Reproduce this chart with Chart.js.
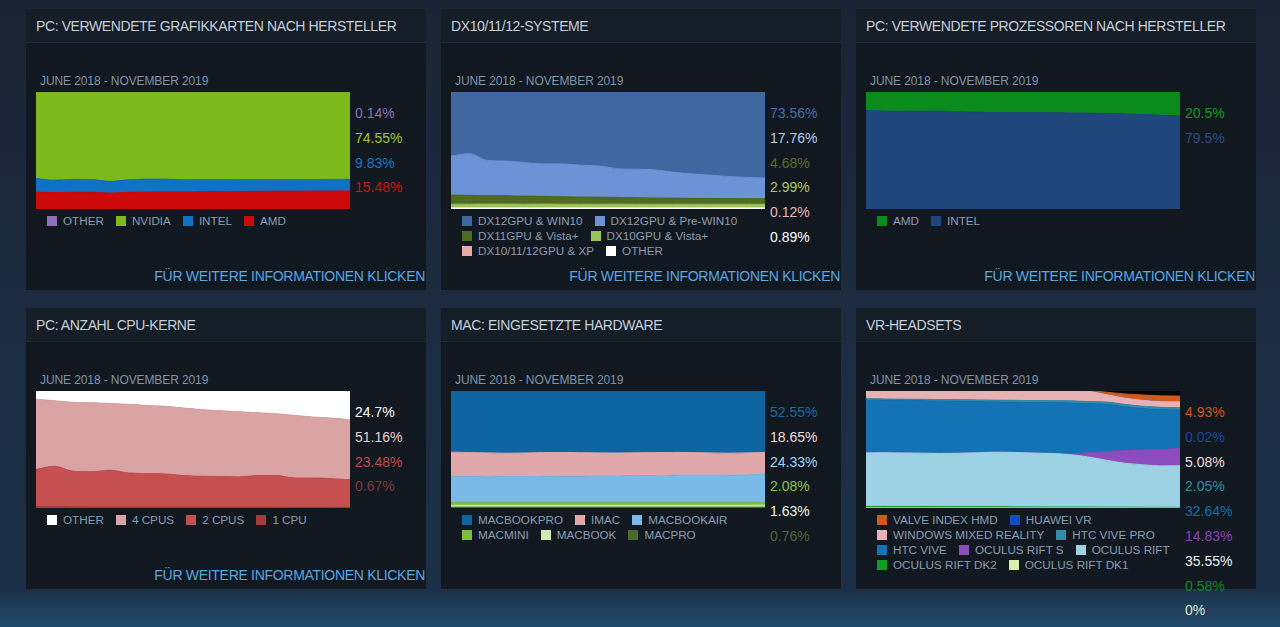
<!DOCTYPE html>
<html><head><meta charset="utf-8">
<script src="https://cdn.jsdelivr.net/npm/chart.js@4.4.1/dist/chart.umd.min.js"></script>
<style>
html,body{margin:0;padding:0}
body{width:1280px;height:627px;overflow:hidden;position:relative;font-family:'Liberation Sans',Arial,sans-serif;
background:linear-gradient(180deg,#1b2434 0px,#1c2b3f 300px,#1b3048 590px,#1e3c5a 605px,#22496b 627px);}
.panel{position:absolute;width:400px;height:281px;background:#111820;}
.ttl{height:33px;line-height:34px;padding-left:10px;background:#151d27;border-bottom:1px solid #1f2a37;color:#c5cfd8;font-size:14px;letter-spacing:-0.4px;white-space:nowrap}
.period{position:absolute;left:14px;top:65px;font-size:12px;color:#8194a8;letter-spacing:-0.1px;white-space:nowrap}
.panel canvas{position:absolute;left:10px;top:83px}
.pcts{position:absolute;left:329px;top:92px;font-size:14px;white-space:nowrap}
.pcts div{height:24.8px;line-height:24.8px}
.legend{position:absolute;left:21px;top:204px;width:305px;font-size:11.7px;line-height:15px;color:#8c9db0}
.li{display:inline-block;margin-right:12px;white-space:nowrap}
.li i{display:inline-block;width:10px;height:10px;margin-right:6px;vertical-align:-1px}
.more{position:absolute;right:1px;top:259px;font-size:14px;color:#5aa7e0;letter-spacing:-0.3px;white-space:nowrap}
</style></head>
<body>
<script>
const months = ['2018-06','2018-07','2018-08','2018-09','2018-10','2018-11','2018-12','2019-01','2019-02','2019-03','2019-04','2019-05','2019-06','2019-07','2019-08','2019-09','2019-10','2019-11'];
const periodLabel = 'JUNE 2018 - NOVEMBER 2019';
const moreInfo = 'FÜR WEITERE INFORMATIONEN KLICKEN';

// 1. GPU vendors (legend order = top to bottom of stack)
const gpuNames = ['OTHER','NVIDIA','INTEL','AMD'];
const gpuPercents = ['0.14%','74.55%','9.83%','15.48%'];
const gpuOther  = [0.14,0.14,0.14,0.14,0.14,0.14,0.14,0.14,0.14,0.14,0.14,0.14,0.14,0.14,0.14,0.14,0.14,0.14];
const gpuNvidia = [73.86,75.26,74.56,74.66,76.26,74.96,74.36,74.36,74.96,74.76,74.76,74.86,74.76,74.76,74.76,74.76,74.56,74.55];
const gpuIntel  = [11.7,10.6,11.1,10.8,10.0,10.6,11.0,10.9,10.4,10.3,10.2,10.0,10.0,9.9,9.9,9.8,10.0,9.83];
const gpuAmd    = [14.3,14.0,14.2,14.4,13.6,14.3,14.5,14.6,14.5,14.8,14.9,15.0,15.1,15.2,15.2,15.3,15.3,15.48];
const gpuColors = ['#8e70b8','#7cb91a','#0f72c4','#cc0a0a'];
const gpuTextColors = ['#8a6fb8','#a3c43a','#1b76c8','#c81a1a'];

// 2. DirectX systems
const dxNames = ['DX12GPU & WIN10','DX12GPU & Pre-WIN10','DX11GPU & Vista+','DX10GPU & Vista+','DX10/11/12GPU & XP','OTHER'];
const dxPercents = ['73.56%','17.76%','4.68%','2.99%','0.12%','0.89%'];
const dxWin10  = [54.7,52.7,58.5,59.0,60.3,61.5,61.5,62.5,63.2,65.5,66.0,66.5,68.5,70.0,71.0,72.2,73.0,73.56];
const dxPreWin10 = [33.4,35.6,30.0,29.7,28.7,27.6,28.0,27.2,26.7,24.5,24.3,24.1,22.3,20.9,20.0,18.9,18.2,17.76];
const dxDx11   = [7.8,7.6,7.3,7.1,6.9,6.7,6.4,6.2,6.0,5.8,5.6,5.4,5.2,5.1,5.0,4.9,4.8,4.68];
const dxDx10   = [3.0,3.0,3.1,3.1,3.0,3.1,3.0,3.0,3.0,3.1,3.0,3.0,3.0,3.0,3.0,3.0,3.0,2.99];
const dxXp     = [0.2,0.2,0.19,0.18,0.18,0.17,0.17,0.16,0.16,0.15,0.15,0.14,0.14,0.13,0.13,0.13,0.12,0.12];
const dxOther  = [0.9,0.9,0.9,0.9,0.9,0.9,0.9,0.9,0.9,0.9,0.9,0.9,0.9,0.9,0.9,0.9,0.9,0.89];
const dxColors = ['#4067a0','#6b93d6','#4f6b1f','#9cc25a','#e8a8ac','#ffffff'];
const dxTextColors = ['#4a6fa8','#b9cdee','#5a6e2a','#a8c868','#e8b8b8','#ffffff'];

// 3. CPU vendors
const cpuNames = ['AMD','INTEL'];
const cpuPercents = ['20.5%','79.5%'];
const cpuAmd   = [15.9,16.3,16.5,16.4,16.3,16.9,17.3,17.6,17.8,17.8,17.8,17.9,18.0,18.4,18.8,19.3,19.9,20.5];
const cpuIntel = [84.1,83.7,83.5,83.6,83.7,83.1,82.7,82.4,82.2,82.2,82.2,82.1,82.0,81.6,81.2,80.7,80.1,79.5];
const cpuColors = ['#0a8c1c','#1f477c'];
const cpuTextColors = ['#1a9a2a','#2b4d80'];

// 4. CPU cores
const coreNames = ['OTHER','4 CPUS','2 CPUS','1 CPU'];
const corePercents = ['24.7%','51.16%','23.48%','0.67%'];
const coresOther = [7.1,8.3,9.7,10.0,10.6,11.4,12.3,13.1,14.6,16.0,16.9,17.7,18.6,19.4,20.9,22.3,23.1,24.7];
const cores4 = [60.0,56.0,58.9,59.1,57.1,58.6,58.3,57.8,57.7,56.9,56.2,55.7,53.7,52.9,53.4,52.0,51.8,51.16];
const cores2 = [31.9,34.7,30.45,29.95,31.4,29.1,28.5,28.25,26.85,26.3,26.1,25.8,26.95,26.95,25.0,25.0,24.4,23.48];
const cores1 = [1.0,1.0,0.95,0.95,0.9,0.9,0.9,0.85,0.85,0.8,0.8,0.8,0.75,0.75,0.7,0.7,0.7,0.67];
const coreColors = ['#ffffff','#dba4a4','#c65050','#a83a3a'];
const coreTextColors = ['#ffffff','#ecd0d0','#c24a4a','#7c3a3e'];

// 5. Mac hardware
const macNames = ['MACBOOKPRO','IMAC','MACBOOKAIR','MACMINI','MACBOOK','MACPRO'];
const macPercents = ['52.55%','18.65%','24.33%','2.08%','1.63%','0.76%'];
const macBookPro = [52.3,52.6,52.9,53.2,53.0,52.6,52.5,52.7,52.9,53.0,52.8,52.6,52.5,52.6,52.9,53.2,52.9,52.55];
const macImac    = [21.0,20.7,20.5,20.0,20.2,20.4,20.3,20.1,19.8,19.6,19.7,19.8,19.5,19.3,19.0,18.8,18.9,18.65];
const macBookAir = [22.3,22.3,22.2,22.4,22.4,22.6,22.8,22.8,22.9,23.0,23.1,23.2,23.6,23.7,23.7,23.6,23.8,24.33];
const macMini    = [2.1,2.1,2.1,2.1,2.1,2.1,2.1,2.1,2.1,2.1,2.1,2.1,2.1,2.1,2.1,2.1,2.1,2.08];
const macBook    = [1.6,1.6,1.6,1.6,1.6,1.6,1.6,1.6,1.6,1.6,1.6,1.6,1.6,1.6,1.6,1.6,1.6,1.63];
const macPro     = [0.7,0.7,0.7,0.7,0.7,0.7,0.7,0.7,0.7,0.7,0.7,0.7,0.7,0.7,0.7,0.7,0.7,0.76];
const macColors = ['#0f65a2','#e0a8aa','#7ab9e8','#7cbf3c','#cfeab2','#4a6a2c'];
const macTextColors = ['#1a6aa8','#f2dada','#a6d2f2','#8cc24e','#eef6e0','#4b6632'];

// 6. VR headsets
const vrNames = ['VALVE INDEX HMD','HUAWEI VR','WINDOWS MIXED REALITY','HTC VIVE PRO','HTC VIVE','OCULUS RIFT S','OCULUS RIFT','OCULUS RIFT DK2','OCULUS RIFT DK1'];
const vrPercents = ['4.93%','0.02%','5.08%','2.05%','32.64%','14.83%','35.55%','0.58%','0%'];
const vrValve   = [0,0,0,0,0,0,0,0,0,0,0,0,0.3,2.0,3.5,4.5,4.9,4.93];
const vrHuawei  = [0,0,0,0,0,0,0,0,0,0,0,0,0,0.01,0.01,0.02,0.02,0.02];
const vrWmr     = [6.7,6.8,7.0,7.1,7.3,7.4,7.6,7.8,8.0,8.2,8.3,8.4,8.7,6.4,5.4,5.1,4.85,5.08];
const vrVivePro = [1.0,1.1,1.1,1.2,1.3,1.4,1.5,1.6,1.7,1.8,1.8,1.9,1.9,2.0,2.0,2.0,2.05,2.05];
const vrVive    = [45.2,44.8,44.9,44.8,44.8,44.4,43.7,42.9,42.8,43.0,43.3,43.4,42.0,40.3,37.5,35.2,34.0,32.64];
const vrRiftS   = [0,0,0,0,0,0,0,0,0,0,0,0.6,3.4,7.4,10.8,12.8,14.0,14.83];
const vrRift    = [45.8,46.0,45.8,45.7,45.5,45.7,46.1,46.7,46.55,46.05,45.75,44.85,42.85,40.15,37.55,36.3,35.4,35.55];
const vrDk2     = [1.2,1.2,1.1,1.1,1.0,1.0,1.0,0.9,0.9,0.9,0.8,0.8,0.8,0.7,0.7,0.6,0.6,0.58];
const vrDk1     = [0.1,0.1,0.1,0.1,0.1,0.1,0.1,0.1,0.05,0.05,0.05,0.05,0.05,0.05,0.05,0,0,0];
const vrColors = ['#d05a1e','#124fc0','#e8b2b4','#2f8cab','#1473b4','#8c4cbe','#9dd2e4','#119c26','#d6f0ae'];
const vrTextColors = ['#d4541e','#1c46a0','#f2dede','#2f8ea8','#1a6aa8','#8a44b8','#e8f0f4','#148a26','#d8ecd0'];

const panels = [
  {title:'PC: VERWENDETE GRAFIKKARTEN NACH HERSTELLER', names:gpuNames, pcts:gpuPercents, colors:gpuColors, tcolors:gpuTextColors, series:[gpuOther,gpuNvidia,gpuIntel,gpuAmd], more:true},
  {title:'DX10/11/12-SYSTEME', names:dxNames, pcts:dxPercents, colors:dxColors, tcolors:dxTextColors, series:[dxWin10,dxPreWin10,dxDx11,dxDx10,dxXp,dxOther], more:true},
  {title:'PC: VERWENDETE PROZESSOREN NACH HERSTELLER', names:cpuNames, pcts:cpuPercents, colors:cpuColors, tcolors:cpuTextColors, series:[cpuAmd,cpuIntel], more:true},
  {title:'PC: ANZAHL CPU-KERNE', names:coreNames, pcts:corePercents, colors:coreColors, tcolors:coreTextColors, series:[coresOther,cores4,cores2,cores1], more:true},
  {title:'MAC: EINGESETZTE HARDWARE', names:macNames, pcts:macPercents, colors:macColors, tcolors:macTextColors, series:[macBookPro,macImac,macBookAir,macMini,macBook,macPro], more:false},
  {title:'VR-HEADSETS', names:vrNames, pcts:vrPercents, colors:vrColors, tcolors:vrTextColors, series:[vrValve,vrHuawei,vrWmr,vrVivePro,vrVive,vrRiftS,vrRift,vrDk2,vrDk1], more:false, areaBg:'#050505'}
];

const colLeft = [26,441,856], rowTop = [9,308];
panels.forEach((p, i) => {
  const el = document.createElement('div');
  el.className = 'panel';
  el.style.left = colLeft[i % 3] + 'px';
  el.style.top = rowTop[Math.floor(i / 3)] + 'px';
  el.innerHTML = '<div class="ttl"></div><div class="period"></div>';
  el.querySelector('.ttl').textContent = p.title;
  el.querySelector('.period').textContent = periodLabel;
  const cv = document.createElement('canvas');
  cv.width = 314; cv.height = 117;
  cv.style.width = '314px'; cv.style.height = '117px';
  if (p.areaBg) cv.style.background = p.areaBg;
  el.appendChild(cv);
  const pc = document.createElement('div'); pc.className = 'pcts';
  p.pcts.forEach((t, k) => { const d = document.createElement('div'); d.textContent = t; d.style.color = p.tcolors[k]; pc.appendChild(d); });
  el.appendChild(pc);
  const lg = document.createElement('div'); lg.className = 'legend';
  p.names.forEach((n, k) => {
    const s = document.createElement('span'); s.className = 'li';
    const sq = document.createElement('i'); sq.style.background = p.colors[k];
    s.appendChild(sq); s.appendChild(document.createTextNode(n)); lg.appendChild(s);
  });
  el.appendChild(lg);
  if (p.more) { const m = document.createElement('div'); m.className = 'more'; m.textContent = moreInfo; el.appendChild(m); }
  document.body.appendChild(el);

  // datasets bottom-up (legend order is top-down)
  const n = p.series.length;
  const datasets = [];
  for (let k = n - 1; k >= 0; k--) {
    datasets.push({
      label: p.names[k], data: p.series[k],
      backgroundColor: p.colors[k], borderColor: p.colors[k], borderWidth: 1,
      fill: datasets.length === 0 ? 'origin' : '-1',
      pointRadius: 0, cubicInterpolationMode: 'monotone'
    });
  }
  new Chart(cv, {
    type: 'line',
    data: { labels: months, datasets },
    options: {
      responsive: false, animation: false, maintainAspectRatio: false,
      layout: { padding: 0 },
      plugins: { legend: { display: false }, tooltip: { enabled: false } },
      scales: {
        x: { display: false, offset: false },
        y: { display: false, stacked: true, min: 0, max: 100 }
      }
    }
  });
});
</script>
</body></html>
